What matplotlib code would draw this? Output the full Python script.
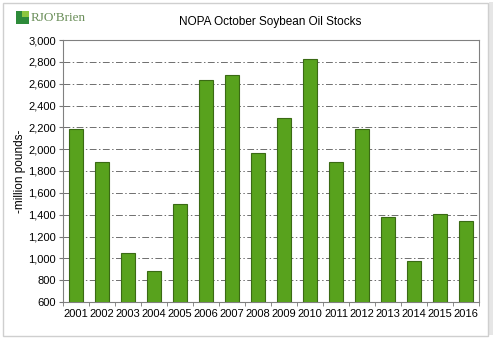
import matplotlib.pyplot as plt
from matplotlib.patches import Rectangle
from matplotlib.ticker import FuncFormatter, FixedLocator

plt.rcParams['font.family'] = ['Liberation Sans', 'DejaVu Sans']

years = ['2001', '2002', '2003', '2004', '2005', '2006', '2007', '2008',
         '2009', '2010', '2011', '2012', '2013', '2014', '2015', '2016']
stocks = [2185, 1886, 1047, 883, 1495, 2634, 2680, 1968,
          2289, 2823, 1880, 2188, 1376, 973, 1410, 1343]

fig = plt.figure(figsize=(4.93, 3.39), dpi=100)
fig.patch.set_facecolor('white')

# outer frame with a soft shadow on the right
fig.patches.append(Rectangle((489 / 493, 4 / 339), 4 / 493, 333 / 339,
                             transform=fig.transFigure, facecolor='#e6e6e6',
                             edgecolor='none', zorder=-2))
fig.patches.append(Rectangle((3 / 493, 3 / 339), 485 / 493, 333 / 339,
                             transform=fig.transFigure, facecolor='white',
                             edgecolor='#cfcfcf', linewidth=1, zorder=-1))

ax = fig.add_axes([63 / 493, 37 / 339, 416 / 493, 262 / 339])
x = range(len(years))
ax.bar(x, stocks, width=0.55, color='#58a21d', edgecolor='#3a6a14',
       linewidth=0.8, zorder=3)

ax.set_ylim(600, 3000)
ax.set_xlim(-0.5, len(years) - 0.5)
ax.set_yticks(range(600, 3001, 200))
ax.yaxis.set_major_formatter(FuncFormatter(lambda v, p: '{:,}'.format(int(v))))
ax.grid(axis='y', color='#6e6e6e', linestyle=(0, (7, 2.5, 1.5, 2.5)),
        linewidth=0.7, zorder=0)

ax.set_xticks(list(x))
ax.set_xticklabels(years)
ax.xaxis.set_minor_locator(FixedLocator([i - 0.5 for i in range(len(years) + 1)]))
ax.tick_params(axis='x', which='major', length=0, pad=5, labelsize=8)
ax.tick_params(axis='x', which='minor', length=3, color='#777777')
ax.tick_params(axis='y', length=3, color='#777777', labelsize=8, pad=2)
for s in ax.spines.values():
    s.set_color('#808080')
    s.set_linewidth(0.8)

ax.set_ylabel('-million pounds-', fontsize=8.5, labelpad=2)
fig.text(270 / 493, 1 - 22 / 339, 'NOPA October Soybean Oil Stocks',
         ha='center', va='center', fontsize=8.5)

# logo
fig.patches.append(Rectangle((16 / 493, 1 - 24 / 339), 13 / 493, 13 / 339,
                             transform=fig.transFigure, facecolor='#2e8b3a',
                             edgecolor='none', zorder=2))
fig.patches.append(Rectangle((22 / 493, 1 - 17 / 339), 7 / 493, 6 / 339,
                             transform=fig.transFigure, facecolor='#8cc63f',
                             edgecolor='none', zorder=3))
fig.text(31 / 493, 1 - 18 / 339, "RJO'Brien", ha='left', va='center',
         fontsize=9.5, family='Liberation Serif', color='#6b8f5a')

fig.savefig('out.png', dpi=100)
